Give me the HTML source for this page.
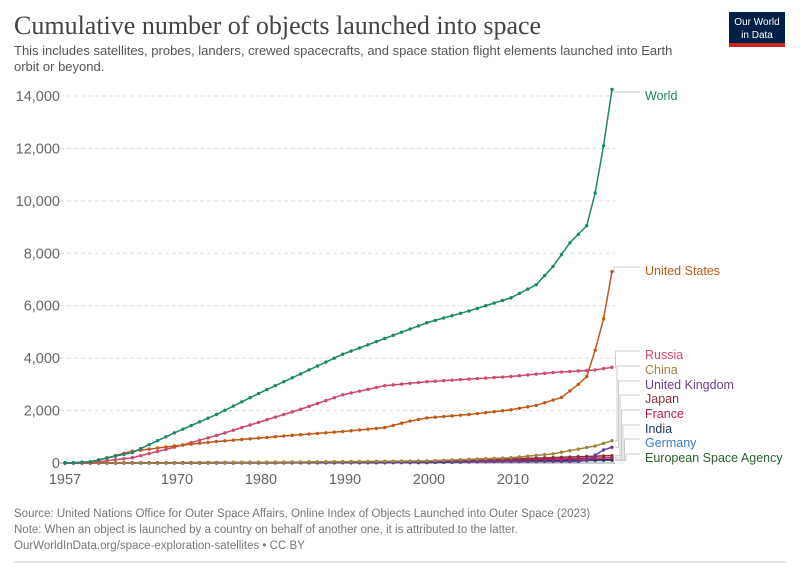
<!DOCTYPE html>
<html><head><meta charset="utf-8"><style>
body{margin:0;background:#fff;font-family:"Liberation Sans",sans-serif;}
svg text{font-family:"Liberation Sans",sans-serif;}
</style></head><body>
<svg id="c" width="800" height="564" xmlns="http://www.w3.org/2000/svg">
<text x="14" y="34" font-size="26" fill="#444" style="font-family:'Liberation Serif',serif">Cumulative number of objects launched into space</text>
<text x="14" y="55" font-size="13" fill="#555">This includes satellites, probes, landers, crewed spacecrafts, and space station flight elements launched into Earth</text>
<text x="14" y="71" font-size="13" fill="#555">orbit or beyond.</text>
<rect x="729" y="12" width="56" height="35" fill="#002147"/>
<rect x="729" y="43" width="56" height="4" fill="#ce261e"/>
<text x="757" y="25" font-size="10" fill="#fff" text-anchor="middle">Our World</text>
<text x="757" y="38" font-size="10" fill="#fff" text-anchor="middle">in Data</text>
<g id="grid" stroke="#ddd" stroke-dasharray="4,3"></g>
<g id="yl" font-size="14.5" fill="#666" text-anchor="end"></g>
<line x1="60" y1="463" x2="615" y2="463" stroke="#999"/>
<g font-size="14.5" fill="#666" text-anchor="middle">
<text x="65" y="484">1957</text><text x="177" y="484">1970</text><text x="261" y="484">1980</text><text x="345" y="484">1990</text><text x="429" y="484">2000</text><text x="513" y="484">2010</text><text x="598" y="484">2022</text>
</g>
<g id="lines"></g>
<g font-size="12.5">
<text x="645" y="100" fill="#1a8769">World</text>
<text x="645" y="275" fill="#c05917">United States</text>
<text x="645" y="359" fill="#cf4a6e">Russia</text>
<text x="645" y="374" fill="#a2833f">China</text>
<text x="645" y="389" fill="#6d3e91">United Kingdom</text>
<text x="645" y="403" fill="#883039">Japan</text>
<text x="645" y="418" fill="#c2185b">France</text>
<text x="645" y="433" fill="#18375f">India</text>
<text x="645" y="447" fill="#3b7bc2">Germany</text>
<text x="645" y="462" fill="#2c5f2d">European Space Agency</text>
</g>
<g font-size="11.5" fill="#777">
<text x="14" y="517">Source: United Nations Office for Outer Space Affairs, Online Index of Objects Launched into Outer Space (2023)</text>
<text x="14" y="533">Note: When an object is launched by a country on behalf of another one, it is attributed to the latter.</text>
<text x="14" y="549">OurWorldInData.org/space-exploration-satellites • CC BY</text>
</g>
<line x1="14" y1="562" x2="786" y2="562" stroke="#ccc"/>
</svg>
<script>
var NS="http://www.w3.org/2000/svg";
function X(y){return 65+(y-1957)*8.415;}
function Y(v){return 463-v*0.026215;}
var g=document.getElementById('grid'),yl=document.getElementById('yl');
for(var i=1;i<=7;i++){var v=i*2000;var l=document.createElementNS(NS,'line');l.setAttribute('x1',60);l.setAttribute('x2',615);l.setAttribute('y1',Y(v));l.setAttribute('y2',Y(v));g.appendChild(l);}
for(var i=0;i<=7;i++){var t=document.createElementNS(NS,'text');t.setAttribute('x',60);t.setAttribute('y',Y(i*2000)+5);t.textContent=(i*2000).toLocaleString('en-US');yl.appendChild(t);}
var S=[
["#8a8a8a",[[1957,0],[1970,0],[2000,20],[2022,100]],458],
["#3b7bc2",[[1957,0],[1970,0],[2000,20],[2022,120]],443],
["#18375f",[[1957,0],[1975,0],[2000,20],[2022,130]],429],
["#c2185b",[[1957,0],[1965,5],[2000,40],[2022,200]],414],
["#883039",[[1957,0],[1970,5],[2000,50],[2022,280]],399],
["#6d3e91",[[1957,0],[1962,5],[2018,60],[2019,100],[2020,300],[2021,500],[2022,600]],385],
["#a2833f",[[1957,0],[1970,0],[2000,80],[2010,200],[2015,350],[2020,650],[2022,850]],370],
["#cf4a6e",[[1957,0],[1960,10],[1965,200],[1970,600],[1975,1050],[1980,1550],[1985,2050],[1990,2600],[1995,2950],[2000,3100],[2005,3200],[2010,3300],[2015,3450],[2020,3550],[2022,3650]],355],
["#c05917",[[1957,0],[1960,30],[1965,450],[1970,650],[1975,820],[1980,950],[1985,1080],[1990,1200],[1995,1350],[1998,1600],[2000,1720],[2005,1850],[2010,2030],[2013,2200],[2016,2500],[2018,3000],[2019,3300],[2020,4300],[2021,5500],[2022,7300]],271],
["#1a8769",[[1957,0],[1960,50],[1965,400],[1970,1150],[1975,1850],[1980,2650],[1985,3400],[1990,4150],[1995,4750],[2000,5350],[2005,5800],[2010,6300],[2013,6800],[2015,7500],[2017,8400],[2019,9050],[2020,10300],[2021,12100],[2022,14250]],96]
];
var L=document.getElementById('lines');
S.forEach(function(s,k){
 var pts=[],a=s[1];
 for(var y=1957;y<=2022;y++){var v=0;for(var j=0;j<a.length-1;j++){if(y>=a[j][0]&&y<=a[j+1][0]){v=a[j][1]+(a[j+1][1]-a[j][1])*(y-a[j][0])/(a[j+1][0]-a[j][0]);break;}}pts.push([X(y),Y(v)]);}
 var ex=pts[pts.length-1];
 var c=document.createElementNS(NS,'polyline');c.setAttribute('points',[[ex[0]+3,ex[1]],[626-k*1.5,ex[1]],[626-k*1.5,s[2]-4],[640,s[2]-4]].join(' '));c.setAttribute('fill','none');c.setAttribute('stroke','#ccc');L.appendChild(c);
 var p=document.createElementNS(NS,'polyline');p.setAttribute('points',pts.join(' '));p.setAttribute('fill','none');p.setAttribute('stroke',s[0]);p.setAttribute('stroke-width',1.5);L.appendChild(p);
 pts.forEach(function(q){var d=document.createElementNS(NS,'circle');d.setAttribute('cx',q[0]);d.setAttribute('cy',q[1]);d.setAttribute('r',1.7);d.setAttribute('fill',s[0]);L.appendChild(d);});
});
</script>
</body></html>
